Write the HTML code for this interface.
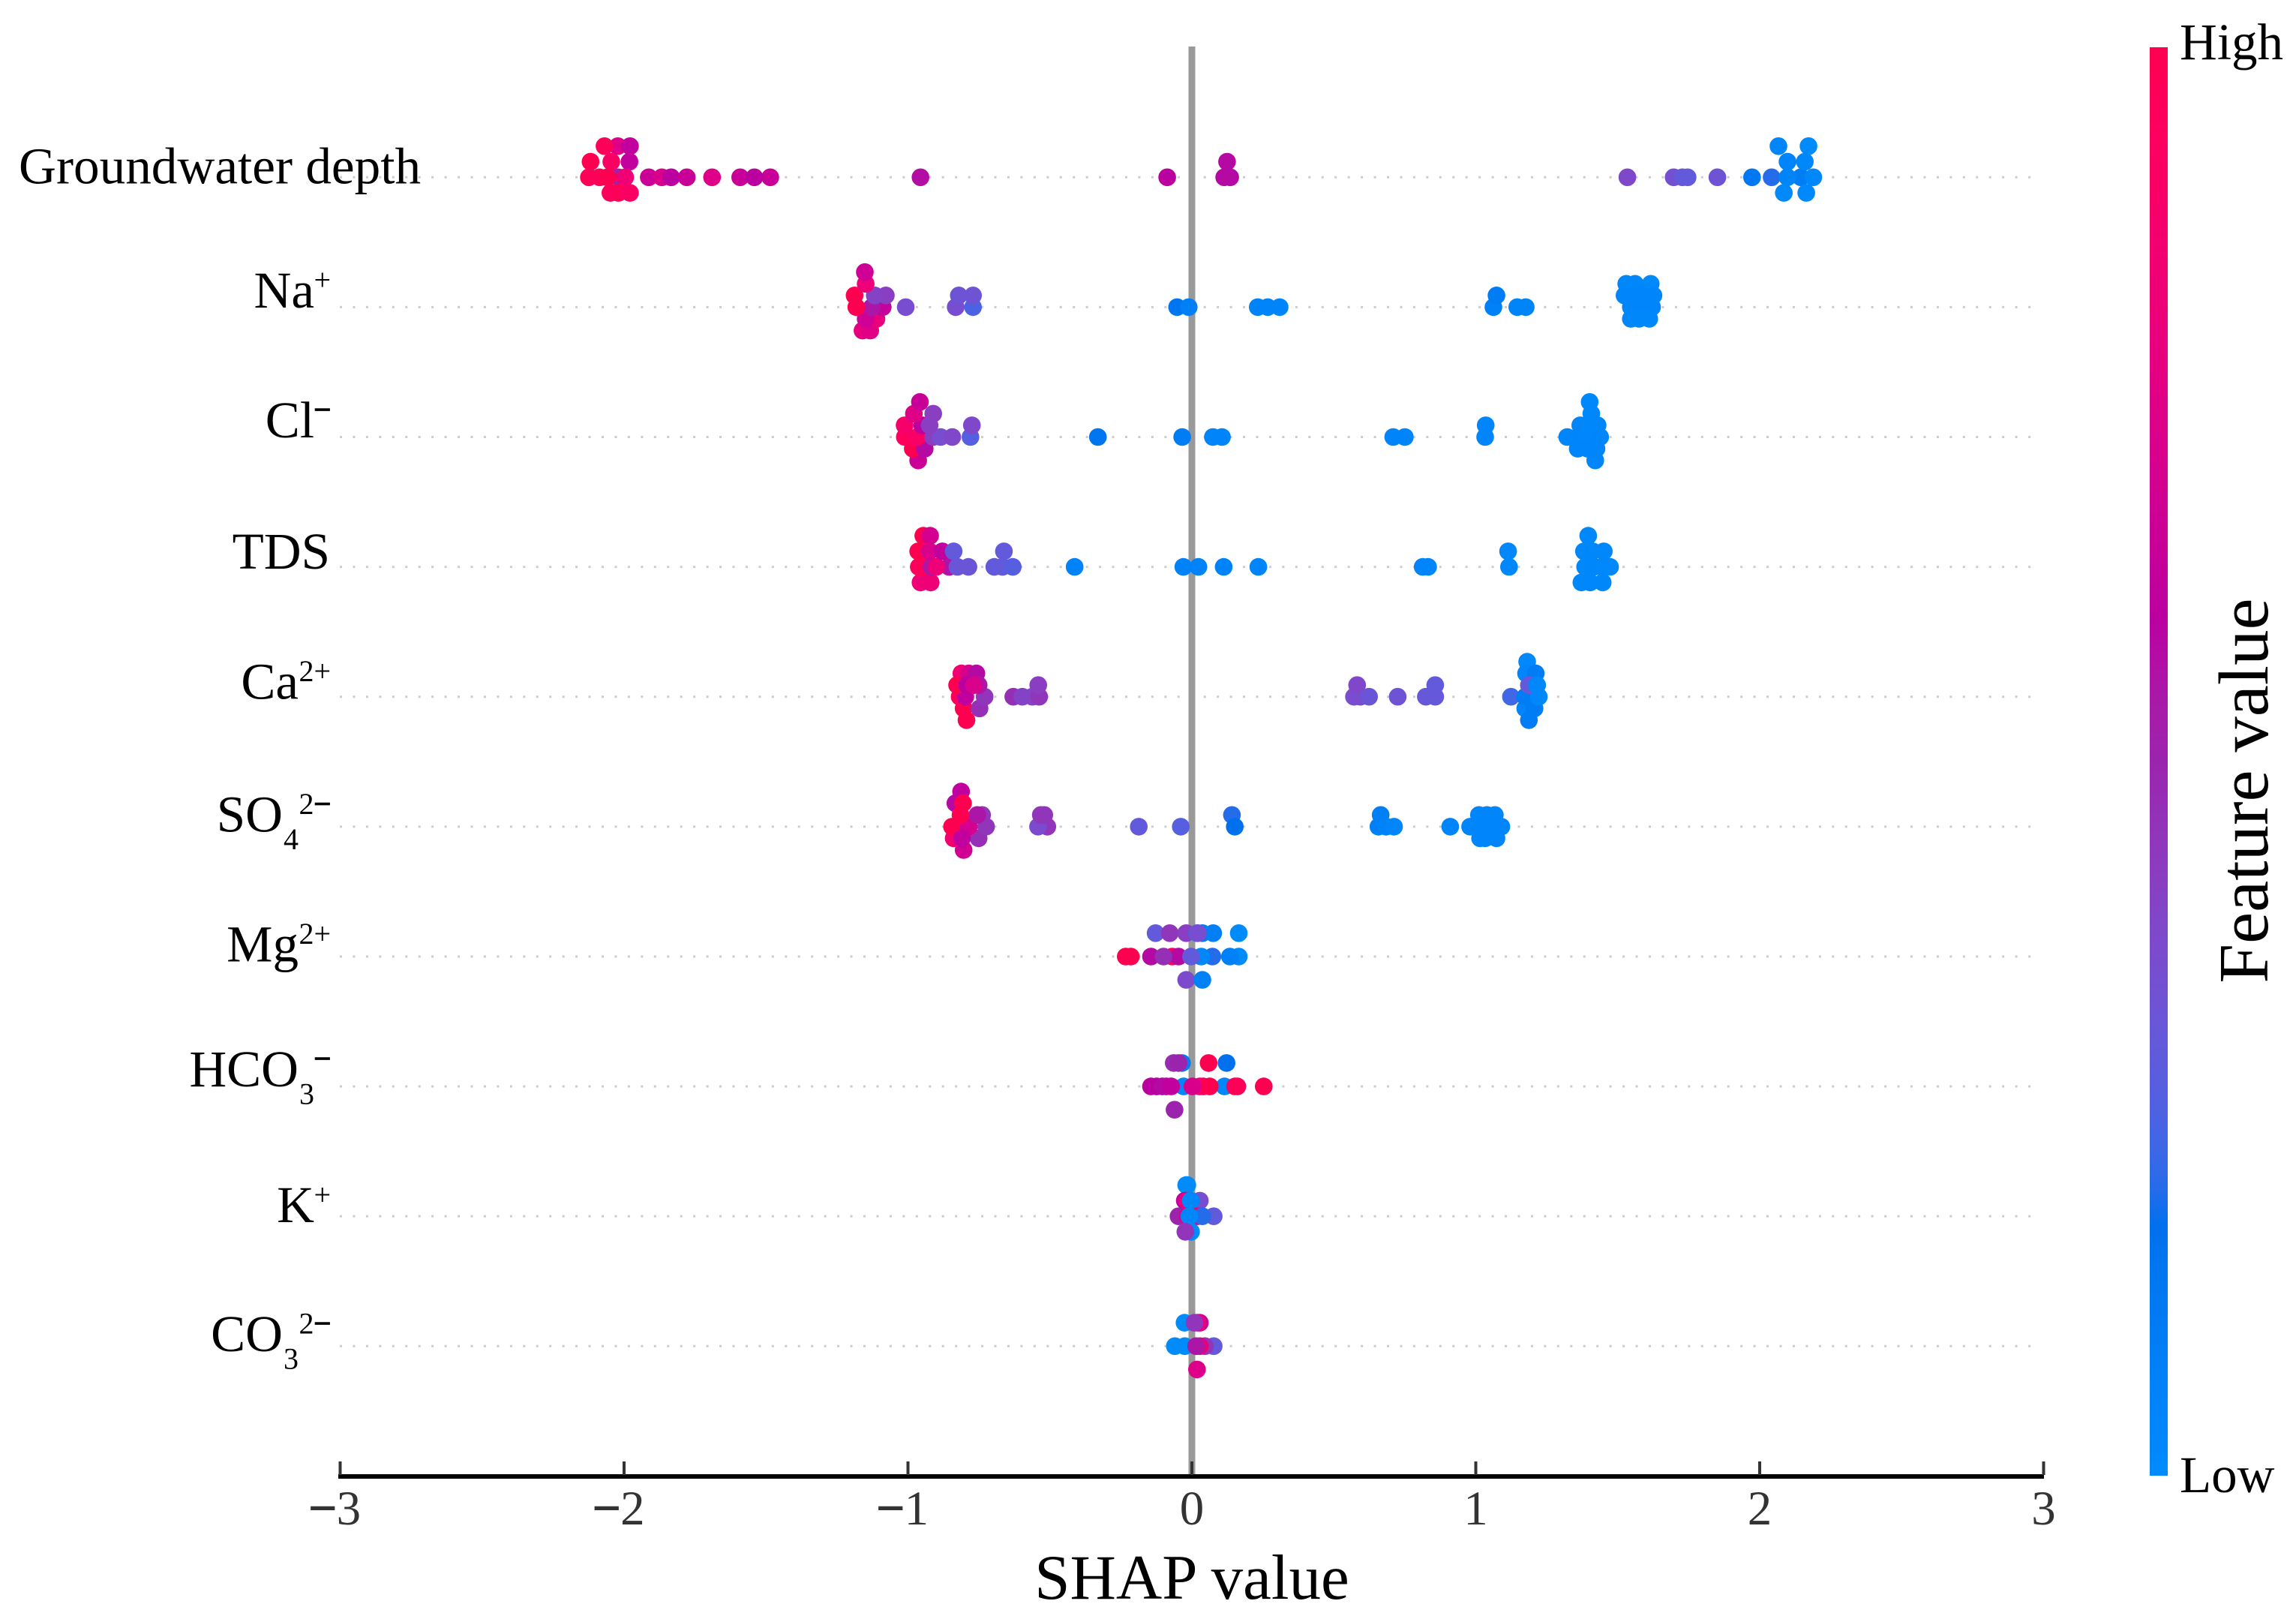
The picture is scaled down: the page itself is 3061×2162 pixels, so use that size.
<!DOCTYPE html>
<html lang="en">
<head>
<meta charset="utf-8">
<title>SHAP summary plot</title>
<style>
html,body{margin:0;padding:0;background:#fff;}
svg{display:block;font-family:"Liberation Serif","Times New Roman",serif;}
</style>
</head>
<body>
<svg id="chart" xmlns="http://www.w3.org/2000/svg" width="3061" height="2162" viewBox="0 0 3061 2162">
  <defs>
    <linearGradient id="cbar-gradient" x1="0" y1="1" x2="0" y2="0"></linearGradient>
  </defs>
  <rect x="0" y="0" width="3061" height="2162" fill="#ffffff"/>
  <g id="grid"></g>
  <rect x="1584.5" y="62" width="9" height="1905" fill="#999999"/>
  <g id="points"></g>
  <g id="labels"></g>
  <g id="axis">
    <rect x="451" y="1965" width="2274" height="6" fill="#000000"/>
  </g>
  <text x="1589" y="2131" font-size="85" text-anchor="middle" fill="#000000">SHAP value</text>
  <g>
    <rect x="2866" y="63" width="24" height="1904" fill="url(#cbar-gradient)"/>
    <text x="2906" y="79" font-size="69" fill="#000000">High</text>
    <text x="2906" y="1989" font-size="69" fill="#000000">Low</text>
    <text transform="translate(3023 1054) rotate(-90)" font-size="94.8" text-anchor="middle" fill="#000000">Feature value</text>
  </g>
</svg>
<script>
// ---------- chart data ----------
const xTicks = [-3, -2, -1, 0, 1, 2, 3];
const xTickLabels = ["\u22123", "\u22122", "\u22121", "0", "1", "2", "3"];
const featureNames = ["Groundwater depth", "Na", "Cl", "TDS", "Ca", "SO", "Mg", "HCO", "K", "CO"];
const featureSubs = ["", "", "", "", "", "4", "", "3", "", "3"];
const featureSups = ["", "+", "\u2212", "", "2+", "2\u2212", "2+", "\u2212", "+", "2\u2212"];

const groundwaterShap = [-2.020,-2.022,-1.979,-2.069,-1.981,-2.118,-2.045,-2.124,-2.086,-2.058,-1.996,-1.913,-1.867,-1.834,-1.779,-1.690,-1.591,-1.485,-1.541,-0.956,-2.048,-2.020,-1.979,-0.087,0.124,0.114,0.135,1.534,1.697,1.728,1.746,1.851,1.973,2.042,2.145,2.098,2.189,2.066,2.172,2.098,2.159,2.085,2.164];
const groundwaterLane = [0,-2,-2,-2,-1,-1,-1,0,0,0,0,0,0,0,0,0,0,0,0,0,1,1,1,0,-1,0,0,0,0,0,0,0,0,0,0,0,0,-2,-2,-1,-1,1,1];
const groundwaterFeature = [0.5,0.74,0.62,0.97,0.62,1,0.92,0.97,0.97,1,0.84,0.66,0.72,0.6,0.65,0.74,0.65,0.65,0.6,0.57,0.95,0.97,0.92,0.6,0.58,0.58,0.58,0.38,0.35,0.3,0.3,0.33,0.13,0.2,0.1,0.04,0.02,0.03,0,0.05,0.02,0.01,0.01];

const naShap = [-1.160,-1.133,-1.111,-1.149,-1.089,-1.127,-1.182,-1.188,-1.078,-1.117,-1.149,-1.152,-1.008,-0.832,-0.771,-0.821,-0.771,-0.052,-0.011,0.232,0.267,0.309,1.062,1.073,1.146,1.176,1.530,1.561,1.616,1.524,1.561,1.590,1.626,1.546,1.580,1.621,1.546,1.575,1.611];
const naLane = [2,2,1,1,0,0,0,-1,-1,-1,-2,-3,0,0,0,-1,-1,0,0,0,0,0,0,-1,0,0,-2,-2,-2,-1,-1,-1,-1,0,0,0,1,1,1];
const naFeature = [0.78,0.75,0.8,0.67,0.64,0.55,1,1,0.42,0.4,0.82,0.67,0.36,0.36,0.25,0.33,0.33,0.15,0.08,0.06,0.05,0.05,0.07,0.1,0.04,0.04,0.02,0.02,0.01,0.03,0.03,0.03,0.03,0.03,0.03,0.03,0.02,0.02,0.02];

const clShap = [-0.964,-0.983,-0.941,-1.011,-0.968,-0.911,-0.885,-0.844,-0.780,-0.331,-0.034,0.074,0.106,-1.012,-0.950,-0.924,-0.775,-0.979,-0.911,-0.958,0.709,0.750,1.033,1.035,1.401,1.407,1.368,1.429,1.398,1.322,1.359,1.394,1.438,1.359,1.425,1.394,1.421];
const clLane = [2,1,1,0,0,0,0,0,0,0,0,0,0,-1,-1,-1,-1,-2,-2,-3,0,0,0,-1,-3,-2,-1,-1,-1,0,0,0,0,1,1,1,2];
const clFeature = [0.66,1,0.58,0.95,0.9,0.42,0.36,0.38,0.27,0.15,0.1,0.05,0.05,0.88,0.6,0.42,0.38,0.75,0.42,0.65,0.05,0.05,0.03,0.03,0.02,0.02,0.03,0.03,0.02,0.03,0.03,0.02,0.03,0.03,0.03,0.03,0.03];

const tdsShap = [-0.956,-0.920,-0.962,-0.938,-0.917,-0.855,-0.826,-0.787,-0.696,-0.667,-0.631,-0.900,-0.413,-0.030,0.023,0.112,0.234,-0.964,-0.924,-0.879,-0.839,-0.662,-0.946,-0.922,0.813,0.832,1.114,1.117,1.396,1.381,1.412,1.451,1.385,1.416,1.443,1.473,1.372,1.403,1.447];
const tdsLane = [1,1,0,0,0,0,0,0,0,0,0,0,0,0,0,0,0,-1,-1,-1,-1,-1,-2,-2,0,0,-1,0,-2,-1,-1,-1,0,0,0,0,1,1,1];
const tdsFeature = [0.83,0.83,0.95,0.97,0.55,0.56,0.32,0.32,0.3,0.3,0.27,0.82,0.06,0.06,0.06,0.06,0.05,1,0.72,0.62,0.3,0.3,1,0.7,0.03,0.03,0.02,0.02,0.02,0.02,0.02,0.02,0.02,0.02,0.02,0.02,0.02,0.02,0.02];

const caShap = [-0.794,-0.804,-0.748,-0.730,-0.818,-0.798,-0.812,-0.786,-0.759,-0.827,-0.751,-0.792,-0.768,-0.629,-0.597,-0.562,-0.538,-0.541,0.571,0.593,0.582,0.624,0.725,0.824,0.857,0.857,1.124,1.181,1.177,1.211,1.174,1.187,1.207,1.174,1.222,1.187,1.216];
const caLane = [2,1,1,0,0,0,-2,-2,-2,-1,-1,-1,-1,0,0,0,0,-1,0,0,-1,0,0,0,0,-1,0,-3,-2,-2,1,2,1,0,0,-1,-1];
const caFeature = [1,1,0.47,0.45,0.98,0.62,0.85,0.72,0.58,1,0.55,0.6,0.72,0.47,0.4,0.4,0.45,0.42,0.36,0.36,0.38,0.32,0.33,0.31,0.31,0.3,0.23,0.01,0.03,0.1,0.05,0.1,0.1,0.1,0.02,0.3,0.02];

const so4Shap = [-0.804,-0.751,-0.839,-0.845,-0.786,-0.725,-0.810,-0.813,-0.833,-0.806,-0.739,-0.756,-0.815,-0.509,-0.542,-0.520,-0.532,-0.187,-0.039,0.141,0.151,0.665,0.657,0.684,0.712,0.910,1.011,1.039,1.067,0.980,1.015,1.051,1.090,1.015,1.033,1.073];
const so4Lane = [2,1,1,0,0,0,1,-3,-2,-2,-1,-1,-1,0,0,-1,-1,0,0,-1,0,-1,0,0,0,0,-1,-1,-1,0,0,0,0,1,1,1];
const so4Feature = [0.68,0.47,0.85,1,0.7,0.45,0.62,0.62,0.58,1,0.45,0.55,1,0.45,0.37,0.45,0.45,0.3,0.27,0.2,0.18,0.08,0.08,0.06,0.03,0.05,0.03,0.03,0.03,0.03,0.03,0.03,0.03,0.03,0.03,0.03];

const mgShap = [-0.128,-0.078,-0.020,0.019,0.037,0.075,0.165,0.021,-0.233,-0.215,-0.144,-0.069,-0.047,-0.100,0.165,0.134,0.072,0.033,-0.003,-0.020,0.037];
const mgLane = [-1,-1,-1,-1,-1,-1,-1,-1,0,0,0,0,0,0,0,0,0,0,0,1,1];
const mgFeature = [0.3,0.45,0.42,0.03,0.1,0.08,0,0.36,1,1,0.58,0.95,0.58,0.47,0,0.07,0.2,0.02,0.3,0.37,0.07];

const hco3Shap = [-0.035,-0.064,-0.047,0.059,0.122,-0.029,-0.144,-0.124,-0.104,-0.090,-0.073,0.115,0.040,0.028,0.002,0.063,0.152,0.160,0.253,-0.061];
const hco3Lane = [-1,-1,-1,-1,-1,0,0,0,0,0,0,0,0,0,0,0,0,0,0,1];
const hco3Feature = [0.1,0.48,0.5,1,0.18,0.02,0.6,0.6,0.58,0.58,0.62,0.02,0.95,0.9,0.72,1,0.95,0.97,1,0.5];

const kShap = [-0.020,-0.016,-0.025,-0.016,0.028,-0.004,-0.047,-0.016,0.019,0.077,0.037,-0.009,-0.003,-0.023];
const kLane = [-2,-2,-1,-1,-1,-1,0,0,0,0,0,0,1,1];
const kFeature = [0,0,0.62,0.8,0.36,0.02,0.5,0.75,0.8,0.3,0.2,0.02,0,0.45];

const co3Shap = [-0.026,0.028,0.019,0.009,-0.060,-0.025,0.077,0.046,0.028,0.015,0.018];
const co3Lane = [-1,-1,-1,-1,0,0,0,0,0,0,1];
const co3Feature = [0,0.65,0.8,0.45,0,0,0.3,0.45,0.8,0.55,0.74];

const featureShaps = [groundwaterShap, naShap, clShap, tdsShap, caShap, so4Shap, mgShap, hco3Shap, kShap, co3Shap];
const featureLanes = [groundwaterLane, naLane, clLane, tdsLane, caLane, so4Lane, mgLane, hco3Lane, kLane, co3Lane];
const featureValues = [groundwaterFeature, naFeature, clFeature, tdsFeature, caFeature, so4Feature, mgFeature, hco3Feature, kFeature, co3Feature];

// ---------- scales ----------
const NS = "http://www.w3.org/2000/svg";
function xScale(v) { return 1589 + 378.5 * v; }
function rowScale(i) { return 236.3 + 173.11 * i; }
const bandHeight = 62.3;
const dotRadius = 11.8;

// SHAP red_blue colormap (interpolated in LCH)
function redBlue(alpha) {
  const t = Math.max(0, Math.min(1, alpha));
  const L = t < 0.5 ? 54 - 14 * (t / 0.5) : 40 + 14 * ((t - 0.5) / 0.5);
  const C = 70 + 20 * t;
  const H = 4.6588 + (0.35470565 + 2 * Math.PI - 4.6588) * t;
  const a = C * Math.cos(H), b = C * Math.sin(H);
  const fy = (L + 16) / 116, fx = fy + a / 500, fz = fy - b / 200;
  const inv = function (f) { return f > 6 / 29 ? f * f * f : 3 * (6 / 29) * (6 / 29) * (f - 4 / 29); };
  const X = 0.95047 * inv(fx), Y = inv(fy), Z = 1.08883 * inv(fz);
  const lin = [3.2406 * X - 1.5372 * Y - 0.4986 * Z, -0.9689 * X + 1.8758 * Y + 0.0415 * Z, 0.0557 * X - 0.204 * Y + 1.057 * Z];
  const rgb = lin.map(function (c) {
    const k = Math.max(0, Math.min(1, c));
    const g = k <= 0.0031308 ? 12.92 * k : 1.055 * Math.pow(k, 1 / 2.4) - 0.055;
    return Math.round(g * 255);
  });
  return "rgb(" + rgb.join(",") + ")";
}

// ---------- colorbar ----------
const gradient = document.getElementById("cbar-gradient");
for (let s = 0; s <= 40; s++) {
  const stop = document.createElementNS(NS, "stop");
  stop.setAttribute("offset", (s / 40).toFixed(3));
  stop.setAttribute("stop-color", redBlue(s / 40));
  gradient.appendChild(stop);
}

// ---------- guides + points ----------
const gridGroup = document.getElementById("grid");
const pointGroup = document.getElementById("points");
featureNames.forEach(function (name, i) {
  const cy = rowScale(i);
  const guide = document.createElementNS(NS, "line");
  
  
  guide.setAttribute("x1", 453);
  guide.setAttribute("x2", 2717);
  guide.setAttribute("y1", cy);
  guide.setAttribute("y2", cy);
  guide.setAttribute("stroke", "#cccccc");
  guide.setAttribute("stroke-width", 3);
  guide.setAttribute("stroke-dasharray", "3 14.45");
  gridGroup.appendChild(guide);

  const lanes = featureLanes[i];
  const maxLane = Math.max.apply(null, lanes.map(Math.abs));
  const step = bandHeight / (maxLane + 1);
  featureShaps[i].forEach(function (v, j) {
    const dot = document.createElementNS(NS, "circle");
    
    
    dot.setAttribute("cx", xScale(v).toFixed(1));
    dot.setAttribute("cy", (cy + lanes[j] * step).toFixed(1));
    dot.setAttribute("r", dotRadius);
    dot.setAttribute("fill", redBlue(featureValues[i][j]));
    pointGroup.appendChild(dot);
  });
});

// ---------- text helper: minus signs are heavier in the reference ----------
function appendWithHeavyMinus(textEl, str, strokeWidth, color) {
  str.split(/(\u2212)/).forEach(function (part) {
    if (!part) return;
    const span = document.createElementNS(NS, "tspan");
    if (part === "\u2212") {
      span.setAttribute("stroke", color);
      span.setAttribute("stroke-width", strokeWidth);
    }
    span.textContent = part;
    textEl.appendChild(span);
  });
}

// ---------- feature labels ----------
const labelGroup = document.getElementById("labels");
function addLabelText(str, x, y, size, anchor, partName) {
  const t = document.createElementNS(NS, "text");
  
  
  t.setAttribute("x", x);
  t.setAttribute("y", y);
  t.setAttribute("font-size", size);
  t.setAttribute("text-anchor", anchor);
  t.setAttribute("fill", "#000000");
  appendWithHeavyMinus(t, str, 1.6, "#000000");
  labelGroup.appendChild(t);
}
function labelBaselineShift(name) {
  if (name === "Na" || name === "Cl") return 0.6;
  if (name === "TDS" || name === "Ca") return 2.6;
  if (name === "HCO") return 0;
  if (name === "K") return 8;
  return 6.6;
}
featureNames.forEach(function (name, i) {
  const sub = featureSubs[i], sup = featureSups[i];
  const cy = rowScale(i);
  if (name.length > 10) {
    addLabelText(name, 25, cy + 8, 69.2, "start", "feature-label");
    return;
  }
  const base = cy + labelBaselineShift(name);
  const right = 440;
  const mainEnd = right - sup.length * 21 - (sub ? 21 : 0);
  addLabelText(name, mainEnd, base, 69, "end", "feature-label");
  if (sub) addLabelText(sub, mainEnd + 1, base + 23.4, 40, "start", "feature-label-subscript");
  if (sup) addLabelText(sup, right + 1, base - 23.4, 40, "end", "feature-label-superscript");
});

// ---------- x axis ----------
const axisGroup = document.getElementById("axis");
xTicks.forEach(function (v, i) {
  const tick = document.createElementNS(NS, "rect");
  
  
  tick.setAttribute("x", xScale(v) - 2);
  tick.setAttribute("y", 1948);
  tick.setAttribute("width", 4);
  tick.setAttribute("height", 18);
  tick.setAttribute("fill", "#333333");
  axisGroup.appendChild(tick);
  const label = document.createElementNS(NS, "text");
  
  
  label.setAttribute("x", xScale(v) - (v < 0 ? 7 : 0));
  label.setAttribute("y", 2032);
  label.setAttribute("font-size", 65);
  label.setAttribute("text-anchor", "middle");
  label.setAttribute("fill", "#333333");
  appendWithHeavyMinus(label, xTickLabels[i], 2, "#333333");
  axisGroup.appendChild(label);
});
</script>
</body>
</html>
